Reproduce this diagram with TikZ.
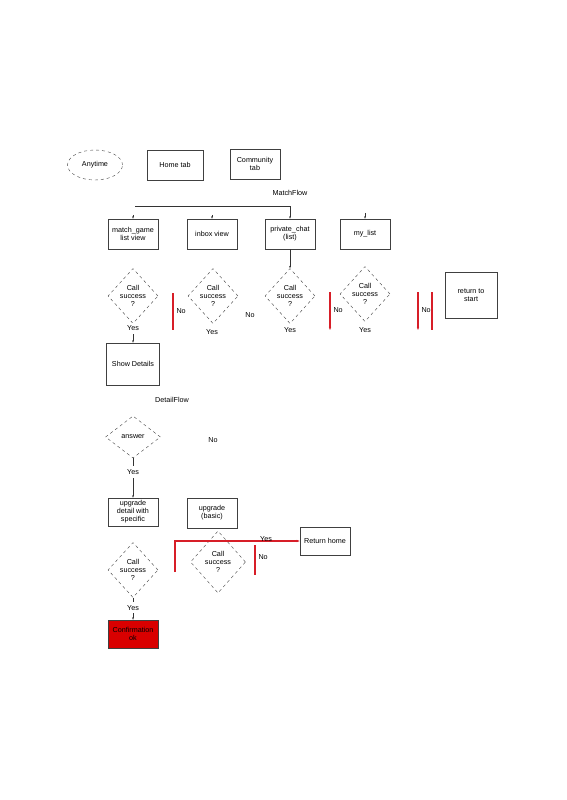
\documentclass[tikz,border=0pt]{standalone}
\usepackage{fontspec}
\setmainfont{Liberation Sans}
\usetikzlibrary{arrows.meta,shapes.geometric,positioning}
\definecolor{failred}{RGB}{215,30,40}

\begin{document}
\begin{tikzpicture}[
    x=1pt, y=-1pt,
    screen/.style={
        draw=black!75,
        line width=0.5pt,
        minimum width=50pt,
        minimum height=30pt,
        inner sep=1pt,
        font=\fontsize{7.2}{8}\selectfont,
        align=center
    },
    check/.style={
        diamond,
        draw=black!75,
        dashed,
        minimum width=50pt,
        minimum height=55pt,
        inner sep=0pt,
        font=\fontsize{7.2}{8}\selectfont,
        align=center
    },
    tag/.style={font=\fontsize{7.2}{8}\selectfont},
    arrow/.style={
        -{Stealth[length=2.5pt]},
        line width=0.5pt,
        draw=black!80
    },
    noline/.style={
        -{Stealth[length=3pt]},
        line width=1.2pt,
        draw=failred
    },
    nobar/.style={
        line width=1.2pt,
        draw=failred
    }
]
    \useasboundingbox (0,0) rectangle (567,800);

    % entry points
    \node[ellipse, draw=black!75, dashed, minimum width=55pt, minimum height=30pt, tag] (anytime) at (95,165) {Anytime};
    \node[screen, minimum width=56pt] (home) at (175,165) {Home tab};
    \node[screen] (community) at (255,164) {Community\\tab};
    \node[tag] (matchflow) at (290,193) {MatchFlow};

    % match flow screens
    \node[screen] (gamelist) at (133,234) {match\_game\\list view};
    \node[screen] (inbox) at (212,234) {inbox view};
    \node[screen] (chat) at (290,234) {private\_chat\\(list)};
    \node[screen] (mylist) at (365,234) {my\_list};

    \node[check] (call1) at (133,296) {Call\\success\\?};
    \node[check] (call2) at (213,296) {Call\\success\\?};
    \node[check] (call3) at (290,296) {Call\\success\\?};
    \node[check] (call4) at (365,294) {Call\\success\\?};
    \node[screen, minimum width=52pt, minimum height=46pt] (restart) at (471,295) {return to\\start};

    \node[screen, minimum width=53pt, minimum height=42pt] (details) at (133,364) {Show Details};

    % detail flow
    \node[tag] (detailflow) at (172,400) {DetailFlow};
    \node[check, minimum width=55pt, minimum height=42pt] (answer) at (133,437) {answer};
    \node[tag] (noanswer) at (213,440) {No};
    \node[screen, minimum height=28pt] (upgrade) at (133,512) {upgrade\\detail with\\specific};
    \node[screen, minimum height=30pt] (upbasic) at (212,513) {upgrade\\(basic)};
    \node[check] (call5) at (133,570) {Call\\success\\?};
    \node[check, minimum width=55pt, minimum height=62pt] (call6) at (218,562) {Call\\success\\?};
    \node[screen, minimum height=28pt] (rethome) at (325,541) {Return home};
    \node[screen, fill=red!85!black, minimum height=28pt] (confirm) at (133,634) {Confirmation\\ok};

    % connectors
    \coordinate (busL) at (135,206);
    \draw[arrow] (busL) -| (chat.north);
    \draw[arrow] (gamelist.north) ++(0,-4) -- (gamelist.north);
    \draw[arrow] (inbox.north) ++(0,-4) -- (inbox.north);
    \draw[arrow] (mylist.north) ++(0,-6) -- (mylist.north);
    \draw[arrow] (chat) -- (call3);
    \draw[arrow] (call1) -- node[tag, fill=white, pos=0.25] {Yes} (details);
    \draw[arrow] (answer) -- node[tag, fill=white, pos=0.35] {Yes} (upgrade);
    \draw[arrow] (call5) -- node[tag, fill=white, pos=0.45] {Yes} (confirm);
    \node[tag] (yes2) at (212,332) {Yes};
    \node[tag] (yes3) at (290,330) {Yes};
    \node[tag] (yes4) at (365,330) {Yes};

    % failure branches
    \coordinate (no1a) at (173,293); \coordinate (no1b) at (173,330);
    \draw[nobar] (no1a) -- (no1b);
    \node[tag, right=0pt of no1a, yshift=-18pt] (no1) {No};
    \node[tag] (no2) at (250,315) {No};
    \coordinate (no3a) at (330,292); \coordinate (no3b) at (330,330);
    \draw[noline] (no3a) -- (no3b);
    \node[tag, right=0pt of no3a, yshift=-18pt] (no3) {No};
    \coordinate (no4a) at (418,292); \coordinate (no4b) at (418,330);
    \draw[noline] (no4a) -- (no4b);
    \node[tag, right=0pt of no4a, yshift=-18pt] (no4) {No};
    \coordinate (no5a) at (432,292); \coordinate (no5b) at (432,330);
    \draw[nobar] (no5a) -- (no5b);

    \coordinate (loopbase) at (175,572);
    \draw[noline] (loopbase) |- (rethome.west);
    \node[tag] (yesloop) at (266,539) {Yes};
    \coordinate (no6a) at (255,545); \coordinate (no6b) at (255,575);
    \draw[nobar] (no6a) -- (no6b);
    \node[tag, right=0pt of no6a, yshift=-12pt] (no6) {No};
\end{tikzpicture}
\end{document}
